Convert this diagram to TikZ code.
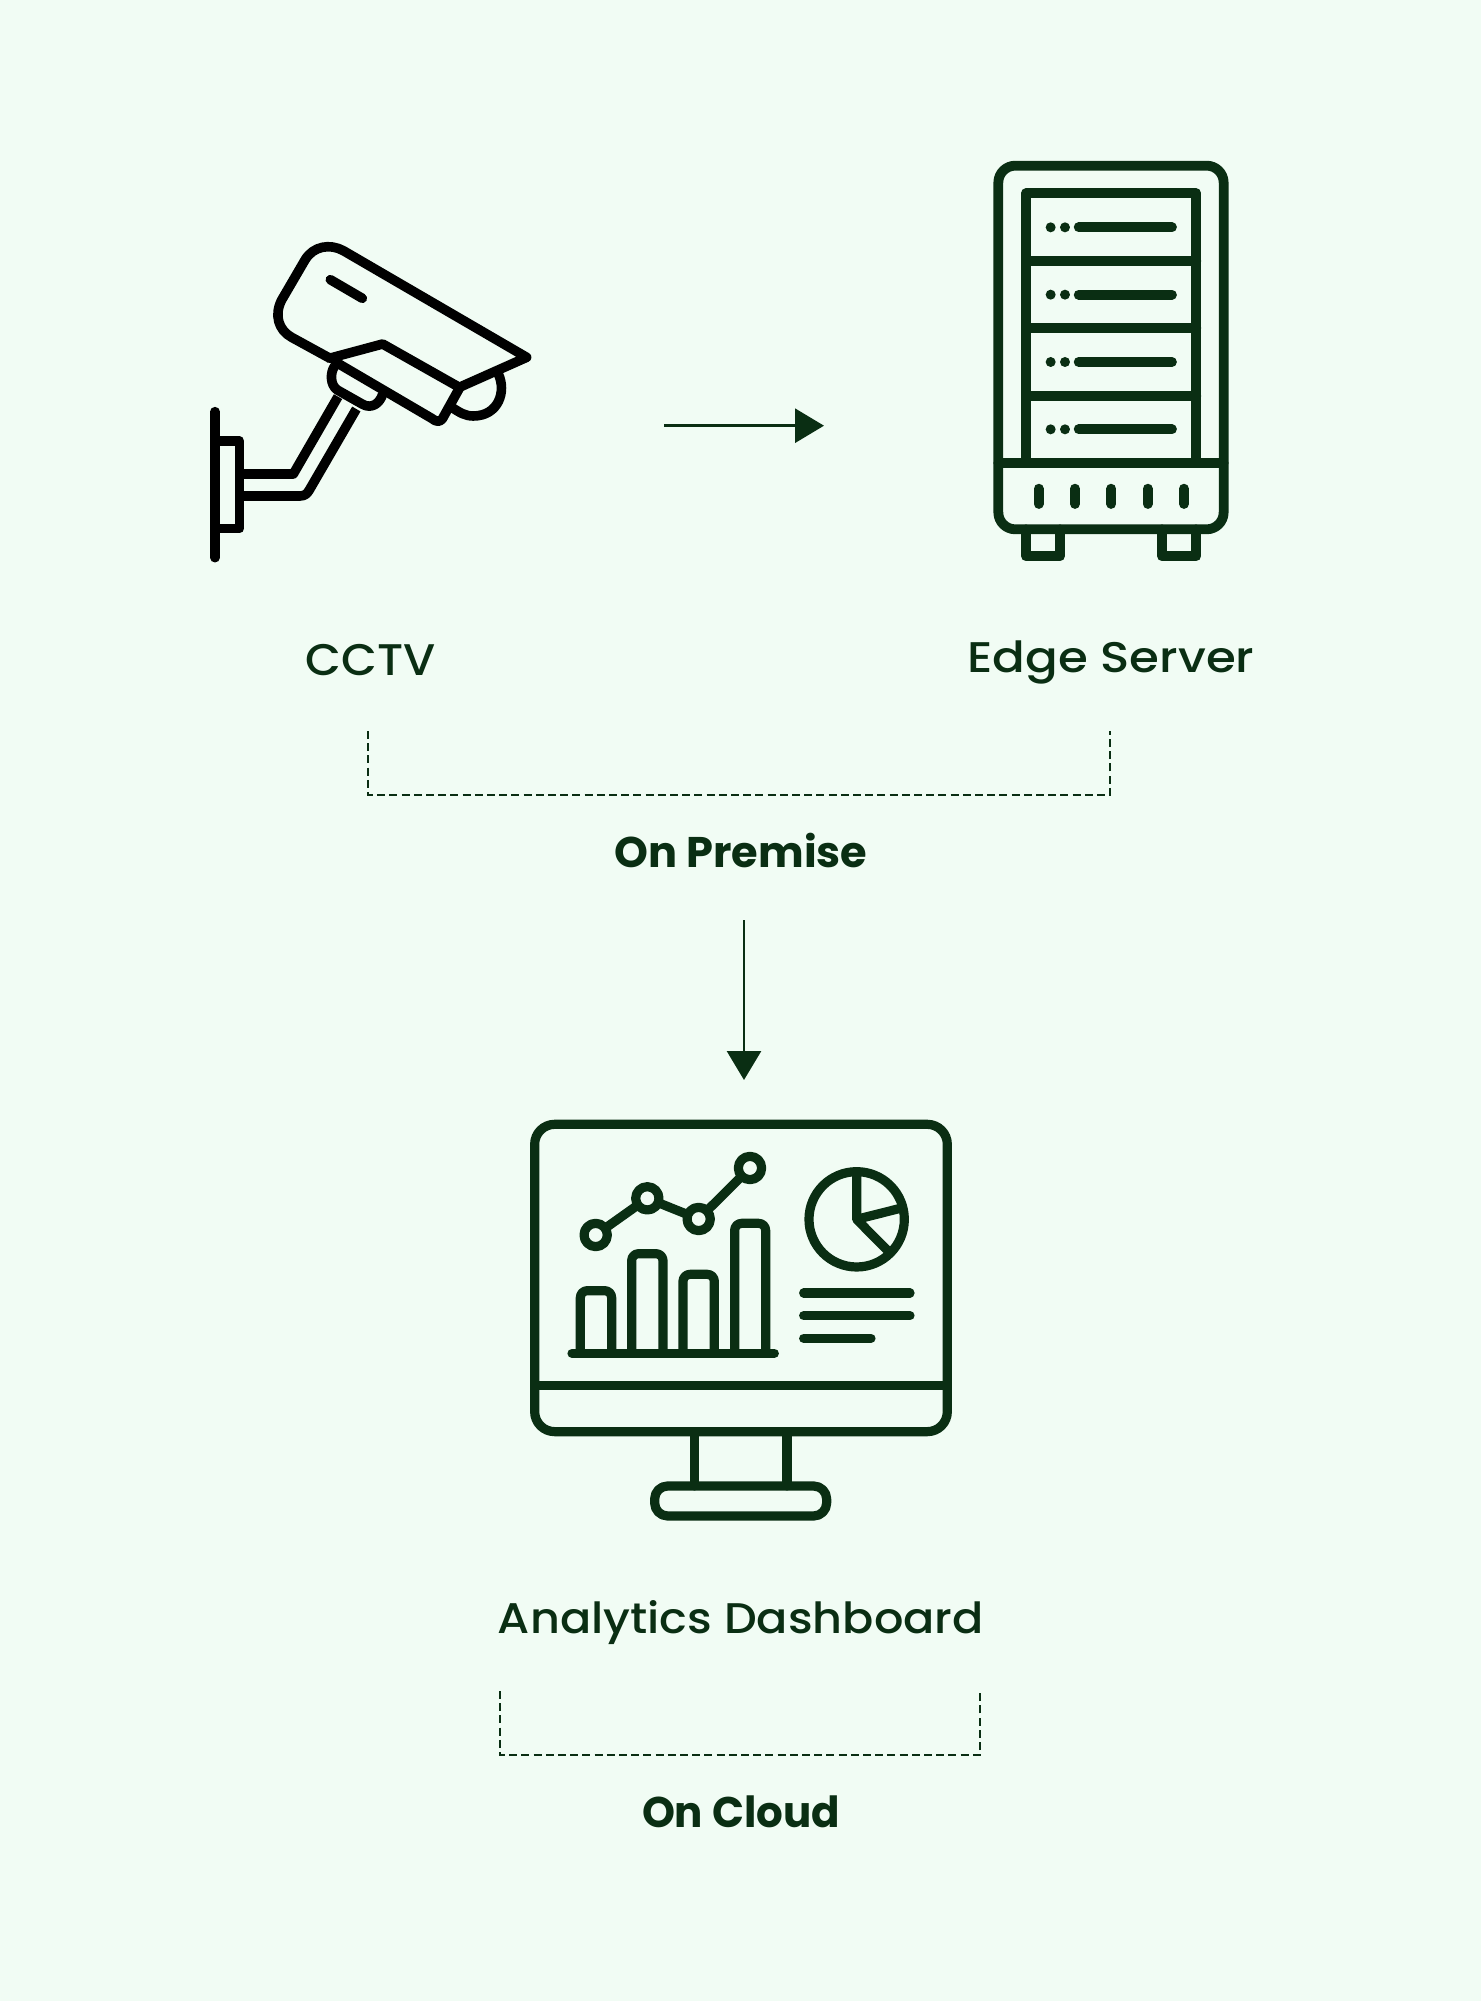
\documentclass[tikz,border=0pt]{standalone}
\usepackage{fontspec}
\usepackage{graphicx}
\usetikzlibrary{arrows.meta}
\newfontfamily\labfont{Poppins}[UprightFont=* Medium,BoldFont=* Bold]
\definecolor{bgc}{HTML}{F1FCF4}
\definecolor{ink}{HTML}{0A2E13}
\newcommand{\fitlab}[3]{\resizebox{#1pt}{#2pt}{\raisebox{0pt}[0.7em][0pt]{\labfont #3}}}
\tikzset{
  labelnode/.style={anchor=base,inner sep=0pt,outer sep=0pt,text=ink},
  flow/.style={draw=ink,line width=2.8pt,-{Triangle[length=29pt,width=34pt,fill=ink]}},
  bracket/.style={draw=ink,line width=2.1pt,dash pattern=on 8pt off 4.2pt},
  icon/.style={line cap=round,line join=round},
  chartdot/.style={circle,draw=ink,line width=9.2pt,minimum size=23.3pt,inner sep=0pt,outer sep=0pt}
}
\begin{document}
\begin{tikzpicture}[x=1pt,y=-1pt]
\useasboundingbox (0,0) rectangle (1481,2001);
\fill[bgc] (0,0) rectangle (1481,2001);

% --- camera
\begin{scope}[x=0.33333pt,y=-0.33333pt,shift={(570,660)},icon,draw=black,line width=9.6pt]
  \draw (75,575) -- (75,1013);
  \draw (75,663) -- (148,663) -- (148,926) -- (75,926);
  \draw[line cap=butt] (148,762) -- (310,762) -- (444,530);
  \draw[line cap=butt] (148,828) -- (330,828) .. controls (345,828) and (352,820) .. (358,810) -- (499,567);
  \draw[line cap=butt] (434,438) .. controls (420,458) and (420,495) .. (442,510) -- (518,553)
     .. controls (545,568) and (570,550) .. (578,522);
  \draw (420,415) -- (305,352) .. controls (265,330) and (252,285) .. (275,240) -- (345,120)
     .. controls (370,78) and (420,70) .. (460,92) -- (1010,412) -- (808,502) -- (578,372) -- (418,415);
  \draw (435,425) -- (725,595) .. controls (740,608) and (752,605) .. (758,595) -- (808,505);
  \draw[line cap=butt] (925,462) .. controls (950,515) and (925,588) .. (850,588)
     .. controls (825,588) and (810,578) .. (785,562);
  \draw (421,179) -- (517,235);
\end{scope}

% --- edge server
\begin{scope}[x=0.33333pt,y=-0.33333pt,shift={(2912,420)},icon,draw=ink,line width=9.8pt]
  \draw[rounded corners=17pt] (83,77) rectangle (759,1168);
  \draw (166,969) -- (166,160) -- (677,160) -- (677,969);
  \foreach \yy in {362,565,767} \draw (166,\yy) -- (677,\yy);
  \draw (83,969) -- (759,969);
  \foreach \yy in {262,464,666,868} {
    \fill[ink] (240,\yy) circle[radius=15];
    \fill[ink] (283,\yy) circle[radius=15];
    \draw (324,\yy) -- (604,\yy);
  }
  \foreach \xx in {204,313,422,531,640} \draw (\xx,1046) -- (\xx,1092);
  \draw (166,1168) -- (166,1249) -- (268,1249) -- (268,1168);
  \draw (574,1168) -- (574,1249) -- (677,1249) -- (677,1168);
\end{scope}

% --- dashboard monitor
\begin{scope}[x=0.33333pt,y=-0.33333pt,shift={(1531,3300)},icon,draw=ink,line width=9.2pt]
  \draw[rounded corners=20pt] (73,73) rectangle (1311,995);
  \draw (73,857) -- (1311,857);
  \draw (553,995) -- (553,1158);
  \draw (830,995) -- (830,1158);
  \draw[rounded corners=13pt] (433,1158) rectangle (949,1248);
  \draw (185,760) -- (792,760);
  \draw[rounded corners=7pt] (210,760) -- (210,572) -- (304,572) -- (304,760);
  \draw[rounded corners=7pt] (364,760) -- (364,461) -- (458,461) -- (458,760);
  \draw[rounded corners=7pt] (518,760) -- (518,523) -- (612,523) -- (612,760);
  \draw[rounded corners=7pt] (673,760) -- (673,370) -- (766,370) -- (766,760);
  \node[chartdot] (dotA) at (256,405) {};
  \node[chartdot] (dotB) at (411,295) {};
  \node[chartdot] (dotC) at (565,357) {};
  \node[chartdot] (dotD) at (719,204) {};
  \draw[line cap=butt] (dotA) -- (dotB);
  \draw[line cap=butt] (dotB) -- (dotC);
  \draw[line cap=butt] (dotC) -- (dotD);
  \draw (1039,358) circle[radius=143];
  \draw[line cap=butt] (1039,220) -- (1039,358) -- (1135,455);
  \draw[line cap=butt] (1039,358) -- (1170,325);
  \draw (880,579) -- (1199,579);
  \draw (880,647) -- (1199,647);
  \draw (880,715) -- (1082,715);
\end{scope}

% --- labels
\node[labelnode] (cctv) at (371,675) {\fitlab{130}{31}{CCTV}};
\node[labelnode] (edge) at (1111,672) {\fitlab{287}{30}{Edge Server}};
\node[labelnode] (prem) at (741,867) {\fitlab{253}{30}{\bfseries On Premise}};
\node[labelnode] (dash) at (741,1633) {\fitlab{486}{30}{Analytics Dashboard}};
\node[labelnode] (cloud) at (741,1827) {\fitlab{198}{30}{\bfseries On Cloud}};

% --- connectors
\coordinate (hs) at (664,425.7);
\coordinate (he) at (824,425.7);
\coordinate (vs) at (744,920);
\coordinate (ve) at (744,1080);
\draw[flow] (hs) -- (he);
\draw[flow] (vs) -- (ve);

\coordinate (pa) at (368,731);
\coordinate (pb) at (368,795);
\coordinate (pc) at (1110,795);
\coordinate (pd) at (1110,731);
\draw[bracket] (pa) -- (pb) -- (pc) -- (pd);
\coordinate (ca) at (500,1691);
\coordinate (cb) at (500,1755);
\coordinate (cc) at (980,1755);
\coordinate (cd) at (980,1691);
\draw[bracket] (ca) -- (cb) -- (cc) -- (cd);
\end{tikzpicture}
\end{document}
